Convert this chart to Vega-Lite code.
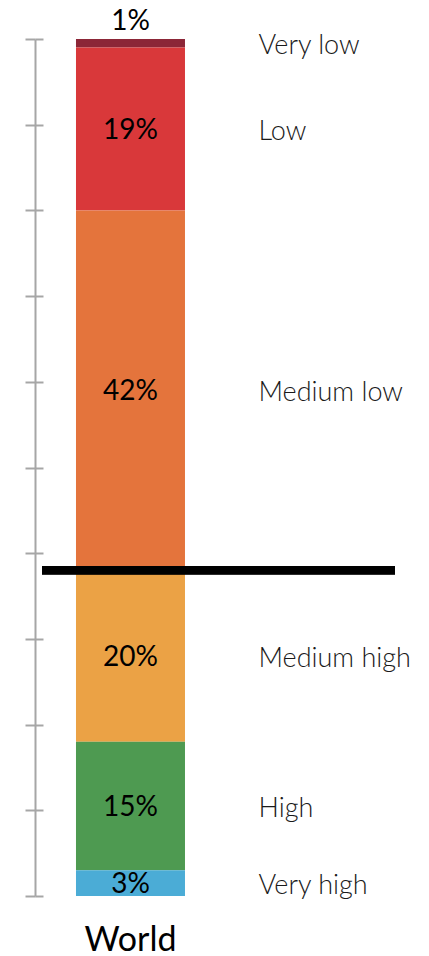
{
  "$schema": "https://vega.github.io/schema/vega-lite/v6.json",
  "autosize": "none",
  "width": 353,
  "height": 857,
  "padding": {"left": 42, "top": 39, "right": 34, "bottom": 60},
  "background": "white",
  "config": {
    "view": {"stroke": null},
    "font": "Lato",
    "axisX": {
      "title": null,
      "domain": false,
      "ticks": false,
      "tickSize": 0,
      "labelAngle": 0,
      "labelFont": "Lato",
      "labelFontSize": 34,
      "labelColor": "#000000",
      "labelBaseline": "alphabetic",
      "labelPadding": 54
    }
  },
  "data": {
    "values": [
      {"region": "World", "category": "Very low", "share": 0.01, "rank": 6},
      {"region": "World", "category": "Low", "share": 0.19, "rank": 5},
      {"region": "World", "category": "Medium low", "share": 0.42, "rank": 4},
      {"region": "World", "category": "Medium high", "share": 0.20, "rank": 3},
      {"region": "World", "category": "High", "share": 0.15, "rank": 2},
      {"region": "World", "category": "Very high", "share": 0.03, "rank": 1}
    ]
  },
  "layer": [
    {
      "mark": {"type": "bar", "stroke": null, "width": 109},
      "encoding": {
        "x": {
          "field": "region",
          "type": "nominal",
          "title": null,
          "scale": {"paddingInner": 0, "paddingOuter": 1, "align": 0.126}
        },
        "y": {
          "field": "share",
          "type": "quantitative",
          "stack": "zero",
          "scale": {"domain": [0, 1], "nice": false},
          "axis": {
            "orient": "left",
            "offset": 7,
            "title": null,
            "labels": false,
            "grid": false,
            "values": [0, 0.1, 0.2, 0.3, 0.4, 0.5, 0.6, 0.7, 0.8, 0.9, 1],
            "domainColor": "#a6a6a6",
            "domainWidth": 2,
            "tickColor": "#a6a6a6",
            "tickWidth": 2,
            "tickSize": 10
          }
        },
        "order": {"field": "rank", "type": "quantitative"},
        "color": {
          "field": "category",
          "type": "nominal",
          "legend": null,
          "scale": {
            "domain": ["Very low", "Low", "Medium low", "Medium high", "High", "Very high"],
            "range": ["#8c2637", "#d9383a", "#e4743c", "#eba245", "#4e9a51", "#4bacd6"]
          }
        }
      }
    },
    {
      "mark": {"type": "rule", "color": "#000000", "strokeWidth": 8},
      "encoding": {
        "y": {
          "datum": 0.38,
          "type": "quantitative",
          "axis": {
            "orient": "right",
            "offset": -360,
            "title": null,
            "labels": false,
            "grid": false,
            "domain": false,
            "values": [0, 0.1, 0.2, 0.3, 0.4, 0.5, 0.6, 0.7, 0.8, 0.9, 1],
            "tickColor": "#a6a6a6",
            "tickWidth": 2,
            "tickSize": 8
          }
        }
      }
    },
    {
      "mark": {"type": "text", "font": "Lato", "fontSize": 28, "color": "#000000", "baseline": "middle", "dy": 2},
      "encoding": {
        "x": {"field": "region", "type": "nominal", "title": null},
        "y": {"field": "share", "type": "quantitative", "stack": "zero", "bandPosition": 0.5, "axis": null},
        "order": {"field": "rank", "type": "quantitative"},
        "text": {
          "condition": {"test": "datum.category !== 'Very low'", "field": "share", "type": "quantitative", "format": ".0%"},
          "value": ""
        }
      }
    },
    {
      "mark": {"type": "text", "font": "Lato", "fontSize": 28, "color": "#000000", "baseline": "alphabetic", "dy": -9},
      "encoding": {
        "x": {"field": "region", "type": "nominal", "title": null},
        "y": {"field": "share", "type": "quantitative", "stack": "zero", "bandPosition": 1, "axis": null},
        "order": {"field": "rank", "type": "quantitative"},
        "text": {
          "condition": {"test": "datum.category === 'Very low'", "field": "share", "type": "quantitative", "format": ".0%"},
          "value": ""
        }
      }
    },
    {
      "mark": {"type": "text", "font": "Lato", "fontSize": 27, "fontWeight": 300, "color": "#1a1a1a", "align": "left", "baseline": "middle", "dx": 128, "dy": 3},
      "encoding": {
        "x": {"field": "region", "type": "nominal", "title": null},
        "y": {"field": "share", "type": "quantitative", "stack": "zero", "bandPosition": 0.5, "axis": null},
        "order": {"field": "rank", "type": "quantitative"},
        "text": {"field": "category", "type": "nominal"}
      }
    }
  ],
  "resolve": {"axis": {"y": "independent"}}
}
